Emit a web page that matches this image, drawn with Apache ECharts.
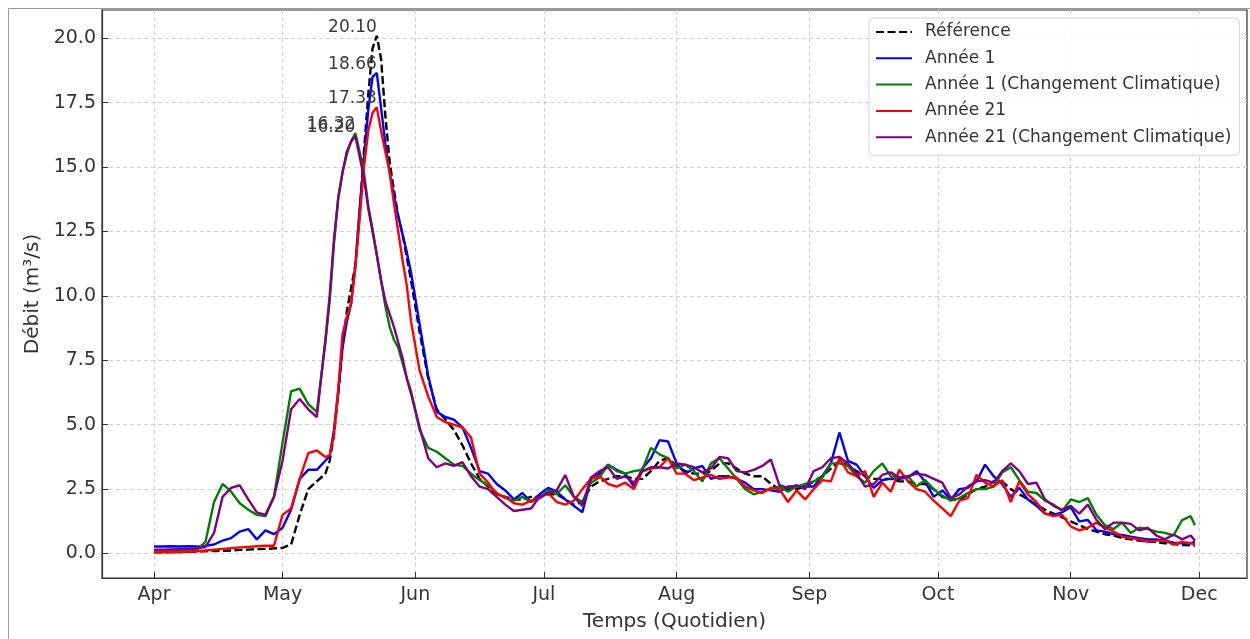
<!DOCTYPE html>
<html>
<head>
<meta charset="utf-8">
<script src="https://cdn.jsdelivr.net/npm/echarts@6/dist/echarts.min.js"></script>
<style>
html,body{margin:0;padding:0;background:#fff;}
#chart{width:1250px;height:639px;}
</style>
</head>
<body>
<div id="chart"></div>
<script>
// Day index since April 1
const days = [0,2,4,6,8,10,12,14,16,18,20,22,24,26,28,30,32,34,36,38,40,
  41,42,43,44,45,46,47,48,49,50,51,52,53,54,55,56,57,58,59,60,
  62,64,66,68,70,72,74,76,78,80,
  82,84,86,88,90,92,94,96,98,100,
  102,104,106,108,110,112,114,116,118,120,
  122,124,126,128,130,132,134,136,138,140,
  142,144,146,148,150,152,154,156,158,160,
  162,164,166,168,170,172,174,176,178,180,
  182,184,186,188,190,192,194,196,198,200,
  202,204,206,208,210,212,214,216,218,220,
  222,224,226,228,230,232,234,236,238,240,
  242,243];

const monthTicks = [0,30,61,91,122,153,183,214,244];
const monthLabels = ['Apr','May','Jun','Jul','Aug','Sep','Oct','Nov','Dec'];
const yTicks = [0,2.5,5,7.5,10,12.5,15,17.5,20];

const seriesNames = ['Référence','Année 1','Année 1 (Changement Climatique)','Année 21','Année 21 (Changement Climatique)'];

const reference = [0.05,0.05,0.06,0.06,0.07,0.08,0.09,0.10,0.11,0.12,0.14,0.15,0.17,0.18,0.20,0.22,0.35,1.5,2.5,2.8,3.1,
  3.6,4.6,6.2,8.0,9.4,10.3,11.2,13.2,15.6,17.8,19.6,20.10,19.2,17.0,15.2,14.1,13.1,12.4,11.5,10.6,
  8.6,6.8,5.6,5.2,4.8,4.2,3.5,2.9,2.6,2.3,
  2.2,2.1,2.1,2.2,2.2,2.3,2.3,2.1,1.9,2.0,
  2.6,2.8,2.9,3.0,3.0,2.9,2.9,3.2,3.6,3.7,
  3.4,3.2,3.1,3.1,3.2,3.5,3.5,3.3,3.1,3.0,
  3.0,2.7,2.5,2.5,2.5,2.6,2.8,3.0,3.3,3.6,
  3.4,3.2,3.0,2.9,2.9,2.9,2.8,2.8,2.7,2.7,
  2.5,2.2,2.1,2.1,2.3,2.5,2.6,2.8,2.8,2.5,
  2.3,2.1,1.9,1.7,1.55,1.4,1.25,1.1,0.95,0.85,
  0.75,0.7,0.6,0.55,0.5,0.47,0.44,0.4,0.37,0.33,
  0.32,0.3];

const annee1 = [0.27,0.27,0.28,0.27,0.28,0.27,0.30,0.35,0.5,0.6,0.85,0.95,0.55,0.9,0.75,1.0,1.7,2.9,3.25,3.25,3.6,
  3.8,4.8,6.3,8.0,9.0,9.7,11.2,13.4,15.3,17.2,18.5,18.66,17.3,15.9,14.8,13.9,13.1,12.4,11.7,10.9,
  8.9,6.9,5.5,5.3,5.2,4.9,4.1,3.2,3.1,2.7,
  2.45,2.1,2.35,2.0,2.3,2.55,2.4,2.1,1.85,1.6,
  2.9,3.1,3.45,3.25,3.1,2.6,3.3,3.7,4.4,4.35,
  3.5,3.1,3.3,3.4,2.9,3.0,3.0,2.9,2.75,2.5,
  2.5,2.45,2.4,2.6,2.6,2.6,2.6,3.0,3.5,4.7,
  3.6,3.45,3.0,2.55,2.85,2.9,2.9,2.95,3.2,2.8,
  2.2,2.45,2.1,2.5,2.55,2.8,3.45,3.0,2.7,2.2,
  2.55,2.1,1.85,1.55,1.5,1.6,1.8,1.25,1.3,0.9,
  0.85,0.75,0.72,0.65,0.6,0.55,0.55,0.5,0.42,0.4,
  0.4,0.45];

const annee1CC = [0.1,0.1,0.1,0.1,0.1,0.15,0.45,2.0,2.7,2.4,1.95,1.7,1.5,1.45,2.2,4.3,6.3,6.4,5.8,5.5,8.2,
  9.8,12.0,13.8,14.8,15.5,16.0,16.32,15.6,14.8,13.5,12.6,11.6,10.6,9.6,8.8,8.3,8.0,7.4,6.8,6.3,
  4.8,4.1,3.95,3.7,3.45,3.4,3.1,2.85,2.65,2.35,
  2.15,2.05,2.2,2.0,2.15,2.45,2.3,2.65,2.2,2.0,
  2.75,2.95,3.45,3.2,3.1,3.2,3.25,4.1,3.85,3.7,
  3.3,3.45,3.2,2.8,3.5,3.7,3.3,2.9,2.5,2.3,
  2.4,2.5,2.6,2.4,2.6,2.7,2.8,2.95,3.5,3.5,
  3.4,3.0,2.75,3.2,3.5,3.0,2.95,3.0,2.6,2.85,
  2.5,2.25,2.05,2.15,2.35,2.5,2.5,2.6,3.15,3.35,
  2.85,2.4,2.35,2.05,1.9,1.65,2.1,2.0,2.15,1.5,
  1.1,0.95,1.2,0.8,1.0,0.95,0.85,0.8,0.7,1.3,
  1.45,1.1];

const annee21 = [0.05,0.05,0.05,0.06,0.07,0.09,0.12,0.15,0.18,0.21,0.24,0.26,0.28,0.3,0.3,1.5,1.75,2.9,3.9,4.0,3.75,
  3.8,4.6,6.4,8.5,9.2,9.7,11.1,13.0,15.0,16.4,17.1,17.33,16.4,15.6,14.8,13.6,12.5,11.4,10.4,9.0,
  7.1,6.1,5.3,5.1,5.0,4.9,4.5,3.1,2.75,2.3,
  2.2,1.95,1.9,2.05,2.15,2.35,2.0,1.9,2.05,2.5,
  2.9,3.0,2.7,2.6,2.75,2.5,3.2,3.3,3.35,3.7,
  3.1,3.1,2.85,2.95,3.05,2.9,2.95,2.95,2.6,2.45,
  2.35,2.55,2.5,2.0,2.45,2.1,2.5,2.85,2.8,3.7,
  3.15,3.0,3.2,2.2,2.75,2.4,3.25,2.8,2.5,2.4,
  2.05,1.75,1.45,2.05,2.15,3.05,2.75,2.6,2.85,2.0,
  2.8,2.3,2.0,1.55,1.45,1.5,1.05,0.9,1.0,1.2,
  1.0,0.85,0.65,0.6,0.55,0.45,0.5,0.5,0.35,0.45,
  0.4,0.35];

const annee21CC = [0.15,0.15,0.16,0.17,0.18,0.2,0.25,0.8,2.2,2.55,2.65,2.1,1.6,1.5,2.2,3.6,5.6,6.0,5.6,5.3,8.3,
  10.0,12.2,13.8,14.8,15.6,16.0,16.20,15.4,14.6,13.4,12.5,11.6,10.6,9.8,9.3,8.8,8.2,7.6,6.8,6.2,
  4.9,3.7,3.35,3.5,3.4,3.55,3.0,2.6,2.5,2.2,
  1.9,1.65,1.7,1.75,2.2,2.35,2.45,3.05,2.2,1.85,
  2.95,3.2,3.35,2.9,3.0,2.75,3.2,3.35,3.35,3.3,
  3.5,3.45,3.35,3.15,3.3,3.75,3.7,3.2,3.15,3.25,
  3.4,3.65,2.65,2.55,2.65,2.5,3.2,3.35,3.7,3.75,
  3.5,3.1,2.6,2.7,3.05,3.15,2.95,3.0,3.1,3.05,
  2.9,2.75,2.15,2.3,2.6,2.8,2.85,2.75,3.2,3.5,
  3.2,2.7,2.75,2.1,1.85,1.7,1.85,1.55,1.9,1.3,
  0.95,1.2,1.2,1.15,0.9,1.0,0.7,0.55,0.74,0.55,
  0.7,0.5];

const seriesValues = [reference, annee1, annee1CC, annee21, annee21CC];
const seriesColors = ['#000000','#0000ff','#008000','#ff0000','#800080'];

const FONT = 'DejaVu Sans';
const chart = echarts.init(document.getElementById('chart'), null, {renderer:'canvas'});

const series = seriesValues.map((vals, i) => ({
  name: seriesNames[i],
  type: 'line',
  symbol: 'none',
  z: 2 + i,
  data: days.map((d, k) => [d, vals[k]]),
  lineStyle: {color: seriesColors[i], width: 2.4, type: i === 0 ? [8, 3.5] : 'solid'},
  itemStyle: {color: seriesColors[i]},
  emphasis: {disabled: true},
  markPoint: {
    symbol: 'circle', symbolSize: 0, silent: true,
    data: [{type: 'max'}],
    label: {
      show: true, position: 'top', distance: 0, align: 'right',
      formatter: p => p.value.toFixed(2),
      fontFamily: FONT, fontSize: 17, color: '#3a3a3a'
    }
  }
}));

const gridLine = {show: true, lineStyle: {color: '#cfcfcf', width: 1, type: [4, 3]}};

chart.setOption({
  animation: false,
  backgroundColor: '#ffffff',
  textStyle: {fontFamily: FONT},
  grid: {left: 102, right: 3, top: 10, bottom: 61, show: true, borderColor: '#333', borderWidth: 1.2, backgroundColor: 'transparent'},
  graphic: [{
    type: 'polyline', silent: true, z: 0,
    shape: {points: [[8.5, 639], [8.5, 8.5], [1250, 8.5]]},
    style: {stroke: '#9a9a9a', lineWidth: 1, fill: null}
  }],
  legend: {
    orient: 'vertical', left: 869, top: 18,
    padding: [4, 8, 8, 6],
    itemWidth: 36, itemHeight: 14, itemGap: 6.3,
    itemStyle: {opacity: 0},
    backgroundColor: 'rgba(255,255,255,0.85)',
    borderColor: '#d4d4d4', borderWidth: 1, borderRadius: 4,
    textStyle: {fontFamily: FONT, fontSize: 17, color: '#333', lineHeight: 20, padding: [0, 0, 0, 8]},
    data: seriesNames
  },
  xAxis: {
    type: 'value', min: -12.15, max: 255.15,
    name: 'Temps (Quotidien)', nameLocation: 'middle', nameGap: 34,
    nameTextStyle: {fontFamily: FONT, fontSize: 20, color: '#333'},
    axisLine: {onZero: false, lineStyle: {color: '#333', width: 1.2}},
    axisTick: {customValues: monthTicks, inside: true, length: 6, lineStyle: {color: '#333'}},
    axisLabel: {customValues: monthTicks, margin: 8, fontFamily: FONT, fontSize: 19, color: '#333',
      formatter: v => monthLabels[monthTicks.indexOf(Math.round(v))]},
    splitLine: gridLine
  },
  yAxis: {
    type: 'value', min: -0.95, max: 21.1,
    name: 'Débit (m³/s)', nameLocation: 'middle', nameGap: 58, nameRotate: 90,
    nameTextStyle: {fontFamily: FONT, fontSize: 20, color: '#333'},
    axisLine: {show: true, onZero: false, lineStyle: {color: '#333', width: 1.2}},
    axisTick: {show: true, customValues: yTicks, inside: true, length: 6, lineStyle: {color: '#333'}},
    axisLabel: {customValues: yTicks, margin: 6, fontFamily: FONT, fontSize: 19, color: '#333',
      formatter: v => Number(v).toFixed(1)},
    splitLine: gridLine
  },
  series: series
});
</script>
</body>
</html>
